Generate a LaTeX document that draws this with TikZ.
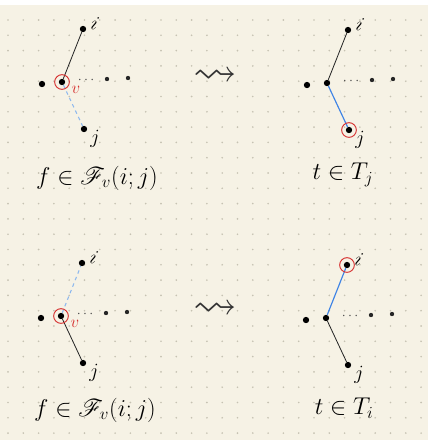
\documentclass[tikz,border=0pt]{standalone}
\usepackage{amssymb}
\usepackage{mathrsfs}
\usetikzlibrary{calc}

\definecolor{paper}{HTML}{F6F2E5}
\definecolor{griddot}{HTML}{C6C2B2}
\definecolor{penblue}{HTML}{3F84E5}
\definecolor{paleblue}{HTML}{8DB8EE}
\definecolor{penred}{HTML}{D62E2E}

\tikzset{
  vtx/.style={circle,fill=black,inner sep=0pt,minimum size=0.19cm},
  far/.style={circle,fill=black!85,inner sep=0pt,minimum size=0.13cm},
  ring/.style={circle,draw=penred,line width=0.8pt,inner sep=0pt,minimum size=0.44cm},
  tree/.style={black!85,line width=0.7pt},
  gone/.style={paleblue,line width=0.9pt,dashed},
  added/.style={penblue,line width=1pt},
  lbl/.style={font=\LARGE,inner sep=0pt},
}

\begin{document}
\begin{tikzpicture}[x=0.03cm,y=-0.03cm]
\useasboundingbox (0,0) rectangle (428,440);
\fill[paper] (0,5) rectangle (428,440);
\foreach \gx in {0,...,27}{
  \foreach \gy in {1,...,28}{\fill[griddot] ({8+15.3*\gx},{4.7+15.3*\gy}) circle (0.028cm);}
}
% the four pictures
\foreach \k/\x/\y/\si/\sj/\r/\cx/\cy/\cap in {%
  1/62/82/tree/gone/v/35/96/{$f\in\mathscr{F}_v(i;j)$},
  2/327/83/tree/added/j/16/92/{$t\in T_j$},
  3/61/316/gone/tree/v/34/94/{$f\in\mathscr{F}_v(i;j)$},
  4/326/318/added/tree/i/18/90/{$t\in T_i$}}{
  \begin{scope}[shift={(\x,\y)}]
  \node[vtx] (v\k) at (0,0) {};
  \node[vtx] (i\k) at (21,-53) {};
  \node[vtx] (j\k) at (22,47) {};
  \node[vtx] (w\k) at (-20,2) {};
  \node[far] (m\k) at (45,-3) {};
  \node[far] (n\k) at (66,-4) {};
  \node[font=\large,text=black!70] (d\k) at (24,-2) {$\cdots$};
  \draw[\si] (v\k) -- (i\k);
  \draw[\sj] (v\k) -- (j\k);
  \node[lbl,rotate=-20] (li\k) at (33,-59) {$i$};
  \node[lbl] (lj\k) at (33,57) {$j$};
  \node[ring] (r\k) at (\r\k) {};
  \node[font=\huge] (c\k) at (\cx,\cy) {\cap};
  \end{scope}
}
\foreach \k in {1,3}{\node[lbl,font=\Large,text=penred] (lv\k) at ($(v\k)+(14,8)$) {$v$};}
\foreach \k/\y in {1/77,2/310}{\node[font=\Huge,scale=1.5,text=black!80] (a\k) at (215,\y) {$\rightsquigarrow$};}
\end{tikzpicture}
\end{document}
